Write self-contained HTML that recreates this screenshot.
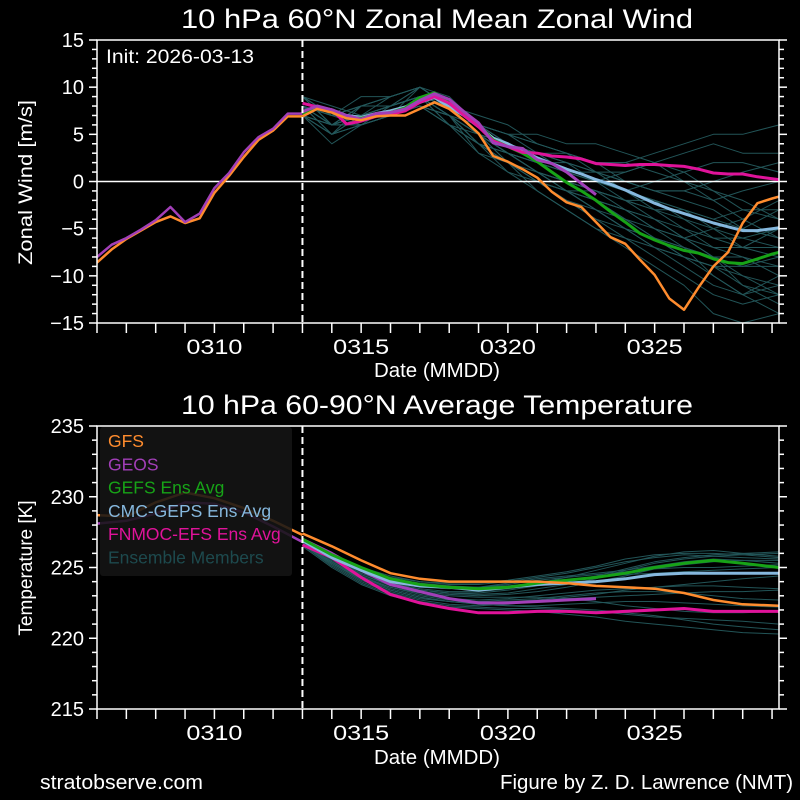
<!DOCTYPE html>
<html><head><meta charset="utf-8"><style>
html,body{margin:0;padding:0;background:#000;}
svg{display:block;font-family:"Liberation Sans",Arial,sans-serif;}
</style></head><body>
<svg id="chart" width="800" height="800" viewBox="0 0 800 800" xmlns="http://www.w3.org/2000/svg">
<rect width="800" height="800" fill="#000"/>
<g id="top"></g>
<g id="bot"></g>
<text x="181" y="28" fill="#fff" font-size="27" textLength="512" lengthAdjust="spacingAndGlyphs">10 hPa  60°N   Zonal Mean Zonal Wind</text>
<text x="181" y="414" fill="#fff" font-size="27" textLength="512" lengthAdjust="spacingAndGlyphs">10 hPa  60-90°N Average Temperature</text>
<text x="374" y="377" fill="#fff" font-size="20" textLength="126" lengthAdjust="spacingAndGlyphs">Date (MMDD)</text>
<text x="374" y="764" fill="#fff" font-size="20" textLength="126" lengthAdjust="spacingAndGlyphs">Date (MMDD)</text>
<text transform="translate(32,265) rotate(-90)" fill="#fff" font-size="19" textLength="165" lengthAdjust="spacingAndGlyphs">Zonal  Wind   [m/s]</text>
<text transform="translate(32,568) rotate(-90)" fill="#fff" font-size="19" text-anchor="middle">Temperature   [K]</text>
<text x="106" y="63" fill="#fff" font-size="19" textLength="148" lengthAdjust="spacingAndGlyphs">Init: 2026-03-13</text>
<text x="40" y="789" fill="#fff" font-size="20" textLength="163" lengthAdjust="spacingAndGlyphs">stratobserve.com</text>
<text x="500" y="789" fill="#fff" font-size="20" textLength="293" lengthAdjust="spacingAndGlyphs">Figure by Z. D. Lawrence (NMT)</text>
</svg>
<script>
// ---- data ----
const histDays = [6,6.5,7,7.5,8,8.5,9,9.5,10,10.5,11,11.5,12,12.5,13];
const windHistGFS  = [-8.6,-7.2,-6.1,-5.2,-4.3,-3.7,-4.4,-3.9,-1.2,0.6,2.6,4.4,5.4,6.9,6.9];
const windHistGEOS = [-8.0,-6.7,-6.0,-5.1,-4.1,-2.7,-4.3,-3.4,-0.7,0.9,3.1,4.7,5.6,7.2,7.2];
const fcDays = [13,13.5,14,14.5,15,15.5,16,16.5,17,17.5,18,18.5,19,19.5,20,20.5,21,21.5,22,22.5,23,23.5,24,24.5,25,25.5,26,26.5,27,27.5,28,28.5,29,29.25];
const windGFS   = [6.9,7.7,7.3,6.7,6.5,6.9,7.0,7.0,7.7,8.4,7.7,6.5,5.1,2.7,2.1,1.3,0.4,-1.1,-2.2,-2.7,-4.3,-5.9,-6.6,-8.3,-9.9,-12.4,-13.6,-11.2,-9.0,-7.5,-4.4,-2.3,-1.8,-1.6];
const windGEOS  = [7.4,8.0,7.6,7.0,6.6,7.2,7.3,7.7,8.6,9.3,8.7,7.4,6.2,4.1,3.7,3.5,2.3,1.9,1.0,-0.2,-1.4];
const windFNMOC = [8.3,7.9,7.6,6.1,6.4,6.9,7.1,7.5,8.4,9.0,8.3,7.0,5.8,4.3,3.7,3.1,3.0,2.7,2.6,2.4,1.9,1.8,1.7,1.8,1.8,1.7,1.6,1.3,0.9,0.8,0.8,0.5,0.3,0.2];
const windGEFS  = [7.2,7.8,7.5,6.8,6.7,7.1,7.3,7.8,8.9,9.4,8.3,7.2,6.0,4.4,3.7,3.0,2.1,1.0,-0.1,-1.0,-2.0,-3.2,-4.3,-5.5,-6.2,-6.8,-7.3,-7.6,-8.2,-8.6,-8.7,-8.2,-7.7,-7.5];
const windCMC   = [7.3,7.9,7.6,7.0,6.8,7.2,7.5,7.9,8.4,8.9,7.9,7.0,5.8,4.6,4.0,3.2,2.5,1.9,1.3,0.8,0.2,-0.3,-0.9,-1.6,-2.3,-2.9,-3.4,-3.9,-4.4,-4.8,-5.2,-5.2,-5.0,-4.9];
const memDays = [13,14,15,16,17,18,19,20,21,22,23,24,25,26,27,28,29.25];
const windMembers = [
[8,7,7,7,9,7,3,1,0,-1,-2,-3,-4,-5,-6,-6,-5],
[9,6,7,8,10,8,5,4,3,3,2,2,3,4,5,5,6],
[7,5,6,7,8,6,4,2,0,-2,-4,-6,-8,-10,-12,-13,-12],
[8,6,8,8,9,8,6,5,4,3,1,0,-1,-1,0,1,2],
[7,4,6,7,8,7,4,2,-1,-3,-5,-7,-9,-11,-14,-15,-14],
[9,7,7,8,9,7,5,3,2,0,-1,-2,-2,-3,-4,-3,-3],
[8,7,9,9,10,8,6,5,5,4,4,3,2,0,-2,-4,-6],
[7,5,6,7,9,7,5,2,1,-1,-3,-5,-6,-7,-8,-10,-11],
[8,6,7,8,9,6,4,3,1,0,-2,-4,-6,-8,-9,-9,-8],
[9,6,8,9,10,8,6,4,3,2,1,1,2,3,4,3,3],
[8,5,7,7,8,7,4,3,1,0,-1,-3,-4,-6,-8,-11,-13],
[7,6,7,8,9,7,6,4,3,1,0,-2,-3,-4,-5,-7,-8],
[8,6,6,7,9,7,4,2,0,-2,-3,-5,-7,-9,-11,-12,-10],
[9,7,8,8,10,9,6,5,4,3,2,0,-1,-2,-3,-5,-6],
[8,6,7,7,8,6,5,3,2,1,0,-1,-3,-5,-7,-8,-9],
[7,5,7,8,9,8,5,3,1,-1,-2,-4,-5,-6,-7,-7,-5],
[8,6,7,8,9,7,5,4,2,1,1,0,-1,-1,-2,-1,0],
[8,6,8,8,9,7,4,2,0,-1,-3,-4,-6,-7,-10,-12,-14],
[9,8,7,8,9,8,6,4,2,1,0,1,2,1,-1,-2,-4],
[8,7,6,7,10,8,5,3,2,0,-2,-3,-5,-6,-5,-4,-2],
[7,6,6,8,9,7,4,1,-1,-3,-5,-6,-7,-8,-9,-10,-12],
[8,5,8,9,10,8,7,6,4,3,2,2,1,0,-1,-3,-4],
[9,6,7,7,8,6,4,3,2,2,1,-1,-2,-3,-5,-6,-7],
[8,7,8,8,9,8,5,3,1,-1,-1,-2,-4,-6,-8,-9,-9],
[7,6,7,7,9,6,3,2,0,-1,-3,-5,-7,-8,-9,-11,-12],
[8,6,7,9,10,8,6,5,3,2,0,-1,0,1,2,2,1],
[9,7,8,8,9,7,5,2,0,-2,-4,-5,-6,-8,-10,-12,-11],
[8,6,7,8,9,8,6,4,3,1,0,-1,-2,-4,-6,-7,-7],
[7,5,6,7,8,7,5,4,2,0,-1,-2,-3,-3,-4,-5,-3],
[8,6,8,8,9,7,5,3,1,0,-2,-3,-5,-7,-8,-8,-10]
];
const tHistDays = [6,7,8,9,10,11,12,13];
const tempHistGFS  = [228.7,228.6,229.6,230.3,229.9,229.2,228.3,227.3];
const tempHistGEOS = [228.1,228.3,228.8,229.6,229.5,228.9,227.9,226.8];
const tDays = [13,14,15,16,17,18,19,20,21,22,23,24,25,26,27,28,29.25];
const tempGFS   = [227.4,226.5,225.5,224.6,224.2,224.0,224.0,224.0,224.0,223.9,223.7,223.6,223.5,223.2,222.7,222.4,222.3];
const tempGEOS  = [227.0,226.0,224.8,223.8,223.3,222.8,222.5,222.5,222.6,222.7,222.8];
const tempFNMOC = [226.6,225.7,224.3,223.1,222.5,222.1,221.8,221.8,221.9,221.9,221.8,221.9,222.0,222.1,221.9,221.9,221.9];
const tempGEFS  = [227.0,225.9,225.0,224.2,223.8,223.6,223.5,223.6,223.9,224.1,224.3,224.6,225.0,225.3,225.5,225.3,225.0];
const tempCMC   = [226.9,225.7,224.8,224.0,223.7,223.6,223.4,223.6,223.8,223.9,224.0,224.2,224.5,224.6,224.6,224.6,224.6];
const tempMembers = [
[226.8,225.6,224.5,223.8,223.4,223.2,223.1,223.2,223.5,223.8,224.2,224.8,225.3,225.6,225.8,225.9,226.0],
[226.7,225.3,224.2,223.4,222.9,222.6,222.4,222.3,222.2,222.1,222.0,221.8,221.6,221.3,221.0,220.8,220.6],
[227.0,225.9,224.9,224.3,224.0,223.8,223.8,224.0,224.3,224.6,225.0,225.4,225.7,225.9,225.8,225.7,225.6],
[226.6,225.2,224.0,223.2,222.7,222.4,222.3,222.4,222.6,222.8,222.9,223.0,223.1,223.2,223.3,223.3,223.4],
[226.9,225.7,224.7,224.0,223.6,223.5,223.6,223.9,224.2,224.4,224.6,224.8,225.1,225.4,225.6,225.5,225.3],
[226.5,225.0,223.8,223.0,222.5,222.2,222.1,222.0,221.9,221.7,221.5,221.2,221.0,220.8,220.6,220.4,220.3],
[227.0,225.8,224.8,224.2,223.9,223.7,223.6,223.7,223.9,224.3,224.8,225.3,225.8,226.1,226.2,226.0,225.8],
[226.8,225.5,224.4,223.6,223.1,222.8,222.7,222.8,223.0,223.2,223.4,223.5,223.6,223.8,224.0,224.2,224.4],
[226.9,225.7,224.6,223.9,223.5,223.3,223.3,223.5,223.8,224.1,224.3,224.5,224.6,224.7,224.8,224.9,225.0],
[226.7,225.4,224.3,223.6,223.2,223.0,222.9,222.9,222.9,222.8,222.6,222.3,222.1,221.9,221.8,221.8,221.9],
[226.8,225.6,224.6,223.9,223.4,223.2,223.2,223.4,223.7,224.0,224.4,224.9,225.4,225.7,225.9,226.0,226.1],
[226.6,225.3,224.1,223.3,222.8,222.6,222.5,222.6,222.7,222.9,223.1,223.4,223.6,223.7,223.7,223.6,223.5],
[226.9,225.8,224.8,224.1,223.7,223.6,223.6,223.8,224.1,224.3,224.5,224.7,224.9,225.0,225.0,225.1,225.2],
[226.7,225.4,224.2,223.4,222.9,222.6,222.4,222.3,222.3,222.4,222.5,222.6,222.6,222.5,222.4,222.3,222.2],
[227.0,225.9,225.0,224.4,224.0,223.9,223.9,224.1,224.4,224.7,225.1,225.6,225.9,226.0,226.0,225.9,225.7],
[226.6,225.1,223.9,223.1,222.6,222.3,222.2,222.1,222.1,222.0,221.9,221.7,221.5,221.4,221.3,221.2,221.0],
[226.8,225.6,224.5,223.7,223.3,223.1,223.0,223.1,223.3,223.6,224.0,224.4,224.9,225.2,225.4,225.5,225.5],
[226.7,225.4,224.3,223.5,223.0,222.7,222.6,222.7,222.8,223.0,223.2,223.3,223.3,223.2,223.0,222.8,222.7]
];
const xTickDays = [10,15,20,25];
const xTickLabels = ["0310","0315","0320","0325"];
const windTicks = [15,10,5,0,-5,-10,-15];
const tempTicks = [235,230,225,220,215];
const legendLabels = ["GFS","GEOS","GEFS Ens Avg","CMC-GEPS Ens Avg","FNMOC-EFS Ens Avg","Ensemble Members"];

// ---- drawing ----
const NS = "http://www.w3.org/2000/svg";
const X0 = 97, X1 = 779, DAY0 = 6, DAYW = 29.35;
const C = {gfs:"#ff8c2e", geos:"#a23fb8", gefs:"#17a317", cmc:"#86b8de", fnmoc:"#e0139a", mem:"#24585c"};
function xS(d){ return X0 + (d - DAY0) * DAYW; }
function mk(parent, tag, attrs){ const e = document.createElementNS(NS, tag); for (const k in attrs) e.setAttribute(k, attrs[k]); parent.appendChild(e); return e; }
function pathD(days, vals, yS){ return vals.map((v,i)=> (i?"L":"M") + xS(Math.min(days[i],29.24)).toFixed(1) + "," + yS(v).toFixed(1)).join(""); }

function panel(g, Y0, Y1, vmax, vmin, ticks, minorStep, name){
  const yS = v => Y0 + (vmax - v) / (vmax - vmin) * (Y1 - Y0);
  const clip = mk(g, "clipPath", {id: "clip-" + name});
  mk(clip, "rect", {x: X0, y: Y0, width: X1 - X0, height: Y1 - Y0});
  const plot = mk(g, "g", {"clip-path": "url(#clip-" + name + ")"});
  
  
  for (let d = DAY0; d <= 29; d++){
    const t = mk(g, "line", {x1: xS(d), x2: xS(d), y1: Y1, y2: Y1 + 10, stroke: "#fff", "stroke-width": 1.5});
    
    
  }
  xTickDays.forEach((d,i)=>{
    const t = mk(g, "text", {x: xS(d) - 28, y: Y1 + 31, fill: "#fff", "font-size": 21, textLength: 56, lengthAdjust: "spacingAndGlyphs"});
    t.textContent = xTickLabels[i];
    
    
  });
  for (let v = vmin; v <= vmax + 0.01; v += minorStep){
    const major = ticks.indexOf(Math.round(v)) >= 0;
    const len = major ? 8 : 5;
    const a = mk(g, "line", {x1: X0 - len, x2: X0, y1: yS(v), y2: yS(v), stroke: "#fff", "stroke-width": 1.5});
    
    
    const b = mk(g, "line", {x1: X1, x2: X1 + len, y1: yS(v), y2: yS(v), stroke: "#fff", "stroke-width": 1.5});
    
    
  }
  ticks.forEach(v=>{
    const t = mk(g, "text", {x: X0 - 13, y: yS(v) + 7, fill: "#fff", "font-size": 20, "text-anchor": "end"});
    t.textContent = v < 0 ? "\u2212" + Math.abs(v) : String(v);
    
    
  });
  return {yS, plot};
}

function line(plot, days, vals, yS, color, w, nm, op){
  const p = mk(plot, "path", {d: pathD(days, vals, yS), fill: "none", stroke: color, "stroke-width": w, "stroke-linejoin": "round", opacity: op || 1});
  
  
  return p;
}

// top
const T = panel(document.getElementById("top"), 40, 323, 15, -15, windTicks, 1, "wind");
windMembers.forEach(m=>{ line(T.plot, memDays, m, T.yS, C.mem, 1, "wind-ensemble-member", 0.95); });
const z = mk(T.plot, "line", {x1: X0, x2: X1, y1: T.yS(0), y2: T.yS(0), stroke: "#fff", "stroke-width": 1.5});


line(T.plot, histDays, windHistGFS, T.yS, C.gfs, 2.5, "wind-gfs-analysis");
line(T.plot, histDays, windHistGEOS, T.yS, C.geos, 2.5, "wind-geos-analysis");
line(T.plot, fcDays, windCMC, T.yS, C.cmc, 3, "wind-cmc-geps-avg");
line(T.plot, fcDays, windGEFS, T.yS, C.gefs, 3, "wind-gefs-avg");
line(T.plot, fcDays, windFNMOC, T.yS, C.fnmoc, 3, "wind-fnmoc-efs-avg");
line(T.plot, fcDays, windGEOS, T.yS, C.geos, 3, "wind-geos-forecast");
line(T.plot, fcDays, windGFS, T.yS, C.gfs, 2.5, "wind-gfs-forecast");
const iv1 = mk(T.plot, "line", {x1: xS(13), x2: xS(13), y1: 40, y2: 323, stroke: "#fff", "stroke-width": 2, "stroke-dasharray": "7,4"});


const fr1 = mk(document.getElementById("top"), "rect", {x: X0, y: 40, width: X1 - X0, height: 283, fill: "none", stroke: "#fff", "stroke-width": 1.5});



// bottom
const B = panel(document.getElementById("bot"), 426, 709, 235, 215, tempTicks, 1, "temp");
line(B.plot, tHistDays, tempHistGFS, B.yS, C.gfs, 2.5, "temp-gfs-analysis");
line(B.plot, tHistDays, tempHistGEOS, B.yS, C.geos, 2.5, "temp-geos-analysis");
tempMembers.forEach(m=>{ line(B.plot, tDays, m, B.yS, C.mem, 1, "temp-ensemble-member", 0.95); });
line(B.plot, tDays, tempFNMOC, B.yS, C.fnmoc, 3, "temp-fnmoc-efs-avg");
line(B.plot, tDays, tempGEOS, B.yS, C.geos, 3, "temp-geos-forecast");
line(B.plot, tDays, tempCMC, B.yS, C.cmc, 3, "temp-cmc-geps-avg");
line(B.plot, tDays, tempGEFS, B.yS, C.gefs, 3, "temp-gefs-avg");
line(B.plot, tDays, tempGFS, B.yS, C.gfs, 2.5, "temp-gfs-forecast");
const iv2 = mk(B.plot, "line", {x1: xS(13), x2: xS(13), y1: 426, y2: 709, stroke: "#fff", "stroke-width": 2, "stroke-dasharray": "7,4"});


const lg = mk(document.getElementById("bot"), "g", {});


const lbg = mk(lg, "rect", {x: 100, y: 427, width: 192, height: 149, rx: 3, fill: "#141414", opacity: 0.88});


const lcol = [C.gfs, C.geos, C.gefs, C.cmc, C.fnmoc, "#1d4a4e"];
legendLabels.forEach((s,i)=>{
  const t = mk(lg, "text", {x: 108, y: 447 + i * 23.3, fill: lcol[i], "font-size": 17.5});
  t.textContent = s;
  
  
});
const fr2 = mk(document.getElementById("bot"), "rect", {x: X0, y: 426, width: X1 - X0, height: 283, fill: "none", stroke: "#fff", "stroke-width": 1.5});


</script>
</body></html>
